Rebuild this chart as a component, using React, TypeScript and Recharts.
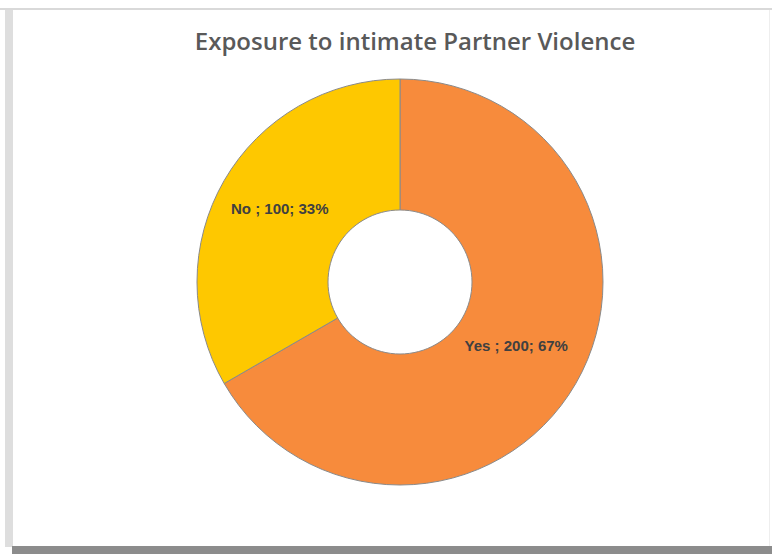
import React from "react";
import { PieChart, Pie, Cell } from "recharts";

const categories = ["Yes", "No"];
const counts = [200, 100];
const percents = [67, 33];
const colors = ["#F78B3C", "#FEC800"];

const data = categories.map((name, i) => ({
    name,
    value: counts[i],
    pct: percents[i],
}));

const RAD = Math.PI / 180;

const renderLabel = (props: any) => {
    const { cx, cy, midAngle, innerRadius, outerRadius, payload } = props;
    const r = (innerRadius + outerRadius) / 2 - 1;
    const x = cx + r * Math.cos(-midAngle * RAD) - 2;
    const y = cy + r * Math.sin(-midAngle * RAD) - 5;
    return (
        <text
            x={x}
            y={y}
            textAnchor="middle"
            dominantBaseline="central"
            fill="#404040"
            fontSize={15}
            fontWeight="bold"
            fontFamily="'Liberation Sans', Arial, sans-serif"
        >
            {`${payload.name} ; ${payload.value}; ${payload.pct}%`}
        </text>
    );
};

export default function App() {
    return (
        <div
            style={{
                position: "absolute",
                left: 0,
                top: 0,
                width: 772,
                height: 554,
                background: "#fff",
                overflow: "hidden",
            }}
        >
            {/* frame */}
            <div style={{ position: "absolute", left: 0, top: 8, width: 772, height: 2, background: "#d9d9d9" }} />
            <div style={{ position: "absolute", left: 5, top: 10, width: 8, height: 537, background: "#dedede" }} />
            <div style={{ position: "absolute", left: 12, top: 546, width: 760, height: 8, background: "#8c8c8c" }} />
            <div style={{ position: "absolute", left: 769, top: 10, width: 1, height: 536, background: "#eeeeee" }} />

            <div
                style={{
                    position: "absolute",
                    left: 0,
                    top: 24,
                    width: 830,
                    textAlign: "center",
                    fontFamily: "'Open Sans', 'Noto Sans', sans-serif",
                    fontWeight: 600,
                    fontSize: 24,
                    color: "#595959",
                }}
            >
                Exposure to intimate Partner Violence
            </div>

            <div style={{ position: "absolute", left: 0, top: 0 }}>
                <PieChart width={772} height={554} margin={{ top: 0, right: 0, bottom: 0, left: 0 }}>
                    <Pie
                        data={data}
                        dataKey="value"
                        nameKey="name"
                        cx={400}
                        cy={282}
                        innerRadius={72}
                        outerRadius={203}
                        startAngle={90}
                        endAngle={-270}
                        stroke="#8a8a8a"
                        strokeWidth={1}
                        label={renderLabel}
                        labelLine={false}
                        isAnimationActive={false}
                    >
                        {data.map((d, i) => (
                            <Cell key={d.name} fill={colors[i]} />
                        ))}
                    </Pie>
                </PieChart>
            </div>
        </div>
    );
}
